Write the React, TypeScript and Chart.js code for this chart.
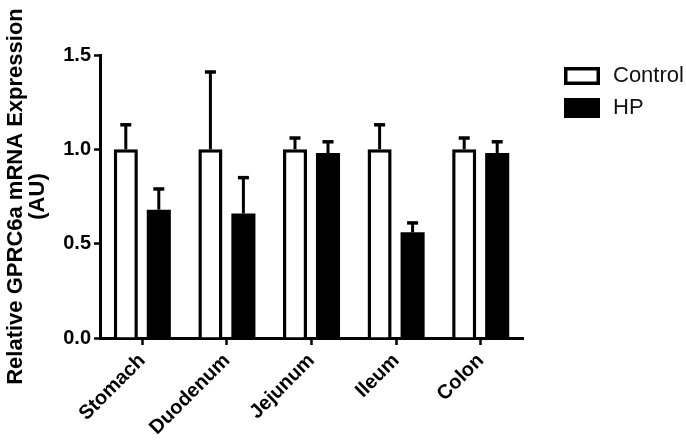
import React, { useEffect, useRef } from "react";
import { Chart, registerables } from "chart.js";

Chart.register(...registerables);

const categories = ["Stomach", "Duodenum", "Jejunum", "Ileum", "Colon"];
const controlMean = [1.0, 1.0, 1.0, 1.0, 1.0];
const controlErr = [0.13, 0.41, 0.06, 0.13, 0.06];
const hpMean = [0.68, 0.66, 0.98, 0.56, 0.98];
const hpErr = [0.11, 0.19, 0.06, 0.05, 0.06];
const seriesNames = ["Control", "HP"];
const yTicks = [0, 0.5, 1.0, 1.5];
const yTitle = ["Relative GPRC6a mRNA Expression", "(AU)"];

const FONT = "'Liberation Sans', Arial, Helvetica, sans-serif";
const errs = [controlErr, hpErr];

const errorBarPlugin = {
  id: "errorBars",
  afterDatasetsDraw(chart: any) {
    const { ctx } = chart;
    const y = chart.scales.y;
    chart.data.datasets.forEach((ds: any, i: number) => {
      const meta = chart.getDatasetMeta(i);
      meta.data.forEach((bar: any, j: number) => {
        const x = bar.x;
        const yBase = bar.y;
        const yTop = y.getPixelForValue(ds.data[j] + errs[i][j]);
        ctx.save();
        ctx.strokeStyle = "#000";
        ctx.lineWidth = 3;
        ctx.beginPath();
        ctx.moveTo(x, yBase);
        ctx.lineTo(x, yTop);
        ctx.stroke();
        ctx.lineWidth = 3.5;
        ctx.beginPath();
        ctx.moveTo(x - 5.5, yTop);
        ctx.lineTo(x + 5.5, yTop);
        ctx.stroke();
        ctx.restore();
      });
    });
  },
};

const legendPlugin = {
  id: "customLegend",
  afterDraw(chart: any) {
    const { ctx } = chart;
    const x0 = 564;
    const rows = [76, 108];
    chart.data.datasets.forEach((ds: any, i: number) => {
      const cy = rows[i];
      ctx.save();
      if (i === 0) {
        ctx.fillStyle = "#fff";
        ctx.fillRect(x0, cy - 9, 36, 18);
        ctx.strokeStyle = "#000";
        ctx.lineWidth = 3.5;
        ctx.strokeRect(x0 + 1.75, cy - 9 + 1.75, 36 - 3.5, 18 - 3.5);
      } else {
        ctx.fillStyle = "#000";
        ctx.fillRect(x0, cy - 10, 36, 20);
      }
      ctx.fillStyle = "#111";
      ctx.font = `22px ${FONT}`;
      ctx.textBaseline = "middle";
      ctx.textAlign = "left";
      ctx.fillText(ds.label, 613, cy);
      ctx.restore();
    });
  },
};

export default function App() {
  const ref = useRef<HTMLCanvasElement | null>(null);
  useEffect(() => {
    if (!ref.current) return;
    const chart = new Chart(ref.current, {
      type: "bar",
      data: {
        labels: categories,
        datasets: [
          {
            label: seriesNames[0],
            data: controlMean,
            backgroundColor: "#fff",
            borderColor: "#000",
            borderWidth: 3.5,
            categoryPercentage: 0.78,
            barPercentage: 0.73,
          },
          {
            label: seriesNames[1],
            data: hpMean,
            backgroundColor: "#000",
            borderColor: "#000",
            borderWidth: 0,
            categoryPercentage: 0.78,
            barPercentage: 0.73,
          },
        ],
      },
      options: {
        responsive: false,
        animation: false,
        layout: { padding: { left: 0, top: 55, right: 163, bottom: 0 } },
        plugins: { legend: { display: false }, tooltip: { enabled: false }, title: { display: false } },
        scales: {
          x: {
            offset: true,
            grid: {
              offset: false,
              drawOnChartArea: false,
              drawTicks: true,
              tickLength: 7,
              tickColor: "#000",
              tickWidth: 2.5,
              color: "#000",
            },
            border: { display: true, color: "#000", width: 3 },
            ticks: {
              color: "#000",
              font: { family: FONT, size: 20, weight: "bold" },
              minRotation: 45,
              maxRotation: 45,
              padding: 4,
              autoSkip: false,
            },
            afterFit: (s: any) => {
              s.height = 103;
            },
          },
          y: {
            min: 0,
            max: 1.5,
            grid: {
              drawOnChartArea: false,
              drawTicks: true,
              tickLength: 6,
              tickColor: "#000",
              tickWidth: 2.5,
              color: "#000",
            },
            border: { display: true, color: "#000", width: 3 },
            afterBuildTicks: (s: any) => {
              s.ticks = yTicks.map((v) => ({ value: v }));
            },
            ticks: {
              color: "#000",
              font: { family: FONT, size: 20, weight: "bold" },
              padding: 3,
              callback: (v: any) => Number(v).toFixed(1),
            },
            title: {
              display: true,
              text: yTitle,
              color: "#000",
              font: { family: FONT, size: 22, weight: "bold", lineHeight: 1.0 },
              padding: { top: 5, bottom: 0 },
            },
            afterFit: (s: any) => {
              s.width = 100;
            },
          },
        },
      },
      plugins: [errorBarPlugin, legendPlugin],
    });
    return () => chart.destroy();
  }, []);
  return (
    <div style={{ position: "fixed", left: 0, top: 0, width: 686, height: 441, background: "#fff" }}>
      <canvas ref={ref} width={686} height={441} />
    </div>
  );
}
